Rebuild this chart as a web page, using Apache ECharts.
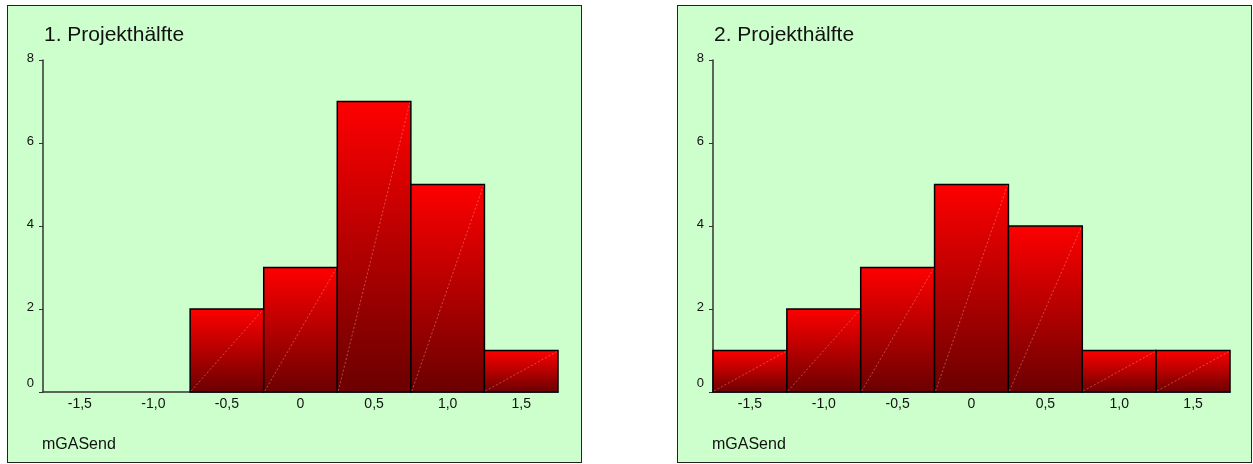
<!DOCTYPE html>
<html>
<head>
<meta charset="utf-8">
<script src="https://cdn.jsdelivr.net/npm/echarts@6/dist/echarts.min.js"></script>
<style>
  body { margin: 0; background: #fff; }
  .panel {
    position: absolute;
    top: 5px;
    width: 575px;
    height: 458px;
    background: #ccffcc;
    border: 1px solid #222;
    box-sizing: border-box;
  }
</style>
</head>
<body>
<div id="c1" class="panel" style="left:7px"></div>
<div id="c2" class="panel" style="left:677px"></div>
<script>
// Klassenmitten der Histogramme (Breite 0,5)
const binLabels = ['-1,5', '-1,0', '-0,5', '0', '0,5', '1,0', '1,5']
const firstHalf = [0, 0, 2, 3, 7, 5, 1]
const secondHalf = [1, 2, 3, 5, 4, 1, 1]
const yMax = 8
const yStep = 2
const xName = 'mGASend'

const font = 'Liberation Sans, Arial'

const barFill = new echarts.graphic.LinearGradient(0, 0, 0, 1, [
  { offset: 0, color: '#ff0000' },
  { offset: 1, color: '#6a0000' }
])

function renderBar(params, api) {
  const idx = api.value(0)
  const val = api.value(1)
  if (!val) return null
  const top = api.coord([idx, val])
  const base = api.coord([idx, 0])
  const w = api.size([1, 0])[0]
  const x0 = top[0] - w / 2
  const x1 = top[0] + w / 2
  return {
    type: 'group',
    children: [
      {
        type: 'rect',
        shape: { x: x0, y: top[1], width: w, height: base[1] - top[1] },
        style: { fill: barFill, stroke: '#000', lineWidth: 1.5 }
      },
      {
        type: 'line',
        shape: { x1: x0 + 1, y1: base[1] - 1, x2: x1 - 1, y2: top[1] + 1 },
        style: { stroke: 'rgba(255,190,190,0.5)', lineWidth: 0.8, lineDash: [2, 2] }
      }
    ]
  }
}

function makeOption(title, values, gridWidth) {
  return {
    animation: false,
    backgroundColor: 'transparent',
    title: {
      text: title,
      left: 36,
      top: 19,
      padding: 0,
      textStyle: { fontFamily: font, fontSize: 21, fontWeight: 'normal', color: '#111' }
    },
    graphic: [{
      type: 'text',
      left: 34,
      top: 431,
      style: { text: xName, font: '16px "Liberation Sans", Arial', fill: '#111' }
    }],
    grid: { left: 35, top: 54, width: gridWidth, height: 332 },
    xAxis: {
      type: 'category',
      data: binLabels,
      boundaryGap: true,
      axisLine: { lineStyle: { color: '#333', width: 1.5 } },
      axisTick: { alignWithLabel: true, length: 4, lineStyle: { color: '#333' } },
      axisLabel: { margin: 5, fontFamily: font, fontSize: 14, color: '#111' },
      splitLine: { show: false }
    },
    yAxis: {
      type: 'value',
      min: 0,
      max: yMax,
      interval: yStep,
      axisLine: { show: true, lineStyle: { color: '#333', width: 1.5 } },
      axisTick: { show: true, length: 4, lineStyle: { color: '#333' } },
      axisLabel: {
        margin: 9,
        fontFamily: font,
        fontSize: 13,
        color: '#111',
        formatter: v => (v === 0 ? '{z|0}' : '{n|' + v + '}'),
        rich: {
          z: { fontFamily: font, fontSize: 13, color: '#111', padding: [0, 0, 18, 0] },
          n: { fontFamily: font, fontSize: 13, color: '#111', padding: [0, 0, 4, 0] }
        }
      },
      splitLine: { show: false }
    },
    series: [{
      type: 'custom',
      renderItem: renderBar,
      data: values.map((v, i) => [i, v]),
      clip: false
    }]
  }
}

const chart1 = echarts.init(document.getElementById('c1'))
chart1.setOption(makeOption('1. Projekthälfte', firstHalf, 515))
const chart2 = echarts.init(document.getElementById('c2'))
chart2.setOption(makeOption('2. Projekthälfte', secondHalf, 517))
</script>
</body>
</html>
